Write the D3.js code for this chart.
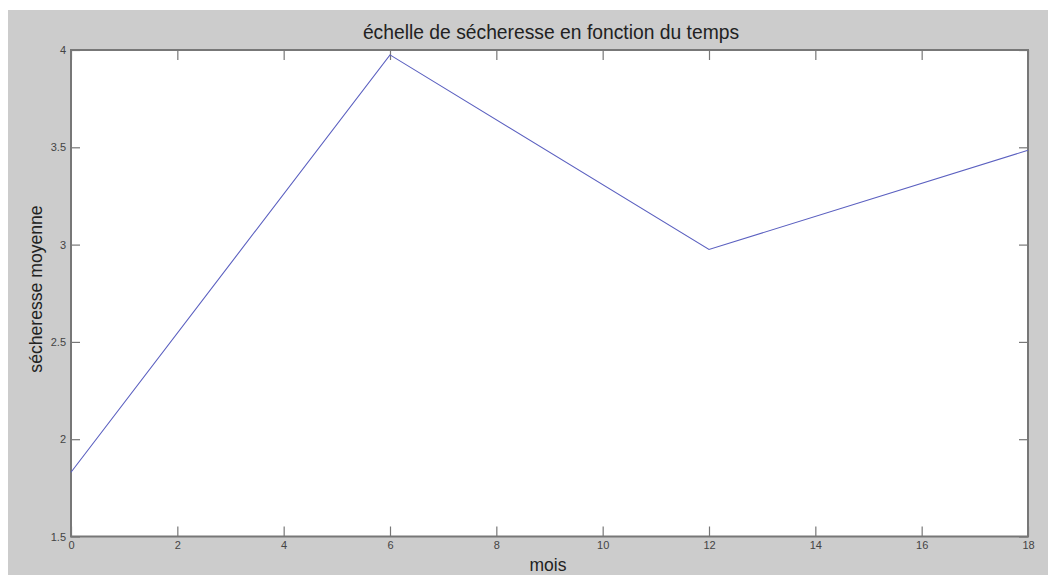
<!DOCTYPE html>
<html><head><meta charset="utf-8">
<script src="https://cdn.jsdelivr.net/npm/d3@7"></script>
<style>body{margin:0;background:#fff}svg{display:block}text{font-family:"Liberation Sans",Arial,sans-serif}</style>
</head><body>
<svg id="c" width="1048" height="575"></svg>
<script>
const months = [0, 6, 12, 18];
const secheresse = [1.83, 3.975, 2.975, 3.485];
const xTicks = [0, 2, 4, 6, 8, 10, 12, 14, 16, 18];
const yTicks = [1.5, 2, 2.5, 3, 3.5, 4];
const title = "échelle de sécheresse en fonction du temps";
const xLabel = "mois";
const yLabel = "sécheresse moyenne";

const svg = d3.select("#c");
const L = 71, R = 1028, T = 50, B = 536.5;
svg.append("rect").attr("x", 8).attr("y", 10).attr("width", 1040).attr("height", 565).attr("fill", "#cccccc");
svg.append("rect").attr("x", L).attr("y", T).attr("width", R - L).attr("height", B - T).attr("fill", "#fff");

const x = d3.scaleLinear().domain([0, 18]).range([L, R]);
const y = d3.scaleLinear().domain([1.5, 4]).range([B, T]);

const axisColor = "#777";
function style(g) {
  g.select(".domain").remove();
  g.selectAll(".tick line").attr("stroke", axisColor).attr("stroke-width", 1.2);
  g.selectAll(".tick text").attr("fill", "#444").attr("font-size", 11);
}
svg.append("g").attr("transform", `translate(0,${B})`)
  .call(d3.axisBottom(x).tickValues(xTicks).tickSize(-10).tickPadding(4).tickFormat(d3.format("d")))
  .call(style).call(g => g.selectAll(".tick text").attr("dy", "0.71em").attr("y", 5));
svg.append("g").attr("transform", `translate(0,${T})`)
  .call(d3.axisTop(x).tickValues(xTicks).tickSize(-10).tickFormat(""))
  .call(style);
svg.append("g").attr("transform", `translate(${L},0)`)
  .call(d3.axisLeft(y).tickValues(yTicks).tickSize(-9).tickPadding(5).tickFormat(d => String(d)))
  .call(style).call(g => g.selectAll(".tick text").attr("x", -5));
svg.append("g").attr("transform", `translate(${R},0)`)
  .call(d3.axisRight(y).tickValues(yTicks).tickSize(-9).tickFormat(""))
  .call(style);

svg.append("rect").attr("x", L).attr("y", T).attr("width", R - L).attr("height", B - T)
  .attr("fill", "none").attr("stroke", axisColor).attr("stroke-width", 2);

const line = d3.line().x(d => x(d[0])).y(d => y(d[1]));
svg.append("path").datum(months.map((m, i) => [m, secheresse[i]]))
  .attr("d", line).attr("fill", "none").attr("stroke", "#5b60c0").attr("stroke-width", 1.1);

svg.append("text").attr("x", 551).attr("y", 39).attr("text-anchor", "middle")
  .attr("font-size", 19.3).attr("fill", "#222").text(title);
svg.append("text").attr("x", 548).attr("y", 571).attr("text-anchor", "middle")
  .attr("font-size", 17.5).attr("fill", "#222").text(xLabel);
svg.append("text").attr("transform", `translate(42,289) rotate(-90)`).attr("text-anchor", "middle")
  .attr("font-size", 17.6).attr("fill", "#222").text(yLabel);
</script>
</body></html>
